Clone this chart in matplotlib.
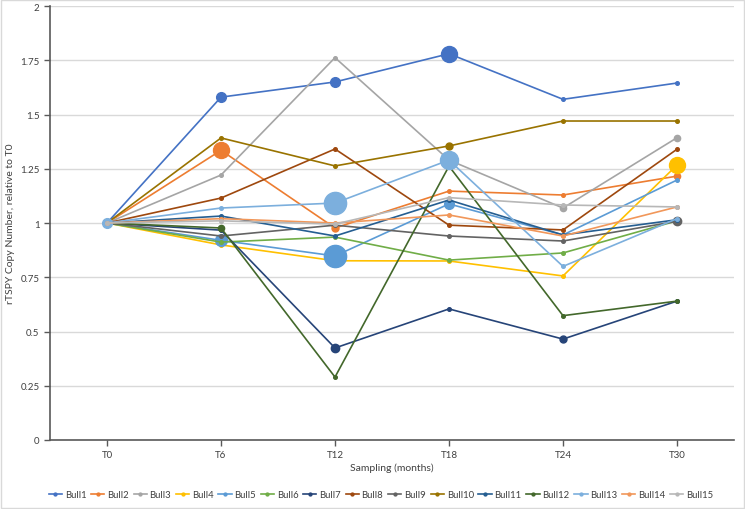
import numpy as np
import matplotlib
matplotlib.use('Agg')
import matplotlib.pyplot as plt

plt.rcParams['font.family'] = ['Lato', 'DejaVu Sans']

# sampling points
timeLabels = ['T0', 'T6', 'T12', 'T18', 'T24', 'T30']
bullNames = ['Bull' + str(i) for i in range(1, 16)]

# rTSPY copy number relative to T0, one list per bull
bull1 = [1.0, 1.58, 1.65, 1.78, 1.57, 1.645]
bull2 = [1.0, 1.335, 0.977, 1.147, 1.129, 1.216]
bull3 = [1.0, 1.221, 1.762, 1.29, 1.069, 1.393]
bull4 = [1.0, 0.899, 0.826, 0.825, 0.756, 1.267]
bull5 = [1.0, 0.92, 0.848, 1.088, 0.945, 1.198]
bull6 = [1.0, 0.912, 0.935, 0.829, 0.862, 1.01]
bull7 = [1.0, 0.967, 0.424, 0.604, 0.465, 0.64]
bull8 = [1.0, 1.115, 1.341, 0.99, 0.968, 1.34]
bull9 = [1.0, 0.94, 0.99, 0.94, 0.917, 1.008]
bull10 = [1.0, 1.392, 1.263, 1.355, 1.47, 1.47]
bull11 = [1.0, 1.032, 0.94, 1.106, 0.945, 1.015]
bull12 = [1.0, 0.977, 0.29, 1.262, 0.573, 0.64]
bull13 = [1.0, 1.069, 1.092, 1.29, 0.80, 1.02]
bull14 = [1.0, 1.02, 1.0, 1.037, 0.94, 1.074]
bull15 = [1.0, 1.01, 0.995, 1.117, 1.083, 1.074]
allBulls = [bull1, bull2, bull3, bull4, bull5, bull6, bull7, bull8,
            bull9, bull10, bull11, bull12, bull13, bull14, bull15]

yTicks = [0, 0.25, 0.5, 0.75, 1, 1.25, 1.5, 1.75, 2]
yTickLabels = ['0', '0.25', '0.5', '0.75', '1', '1.25', '1.5', '1.75', '2']

# office palette
colors = ['#4472C4', '#ED7D31', '#A5A5A5', '#FFC000', '#5B9BD5', '#70AD47',
          '#264478', '#9E480E', '#636363', '#997300', '#255E91', '#43682B',
          '#7CAFDD', '#F1975A', '#B7B7B7']

# enlarged markers: (bull index, time index, marker size)
bigMarkers = [(12, 0, 7), (1, 1, 11.5), (4, 1, 8.5), (0, 1, 7), (11, 1, 4.5),
              (12, 2, 16), (4, 2, 16), (0, 2, 7), (6, 2, 6), (1, 2, 5), (3, 2, 4.5),
              (0, 3, 11.5), (12, 3, 13), (4, 3, 7), (9, 3, 5), (2, 3, 4.5),
              (6, 4, 5), (2, 4, 4.5),
              (3, 5, 11.5), (8, 5, 6), (2, 5, 4.5), (1, 5, 4.5)]

fig = plt.figure(figsize=(7.45, 5.1), dpi=100)
ax = fig.add_axes([50/745, 69/510, 684/745, 434/510])

xPos = np.arange(len(timeLabels))
for m in range(len(allBulls)):
    ax.plot(xPos, allBulls[m], color=colors[m], lw=1.2, marker='o', ms=2.6,
            label=bullNames[m], zorder=2 + m*0.01)
    for (b, t, s) in bigMarkers:
        if b == m:
            ax.plot(xPos[t], allBulls[m][t], 'o', color=colors[m], ms=s,
                    zorder=2 + m*0.01)

ax.set_xlim(-0.5, len(timeLabels) - 0.5)
ax.set_ylim(0, 2)
ax.set_xticks(xPos)
ax.set_xticklabels(timeLabels)
ax.set_yticks(yTicks)
ax.set_yticklabels(yTickLabels)
ax.yaxis.grid(True, color='#D9D9D9', lw=1)
ax.set_axisbelow(True)
for side in ['top', 'right']:
    ax.spines[side].set_visible(False)
for side in ['left', 'bottom']:
    ax.spines[side].set_color('#595959')
    ax.spines[side].set_linewidth(1.2)
ax.tick_params(axis='both', colors='#595959', labelsize=7, length=4, width=1)
for lab in ax.get_xticklabels() + ax.get_yticklabels():
    lab.set_color('#404040')

ax.set_xlabel('Sampling (months)', fontsize=7.5, color='#404040', labelpad=2)
ax.set_ylabel('rTSPY Copy Number, relative to T0', fontsize=7.5, color='#404040')
ax.yaxis.set_label_coords(-0.051, 0.5)

fig.legend(*ax.get_legend_handles_labels(), loc='center', bbox_to_anchor=(381/745, 1 - 496/510),
           ncol=15, frameon=False, fontsize=6.8, handlelength=1.4, handletextpad=0.3,
           columnspacing=0.5, labelcolor='#404040', markerscale=0.8)

fig.patches.append(plt.Rectangle((1/745, 1/510), 743/745, 508/510, transform=fig.transFigure,
                                 fill=False, edgecolor='#D9D9D9', lw=1))

plt.savefig('out.png', dpi=100)
